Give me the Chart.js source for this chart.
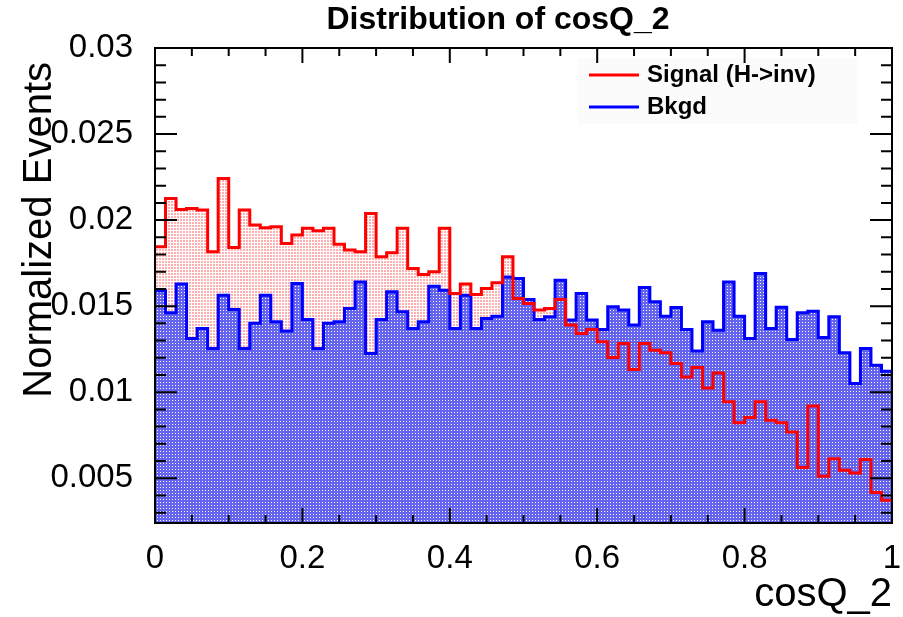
<!DOCTYPE html>
<html>
<head>
<meta charset="utf-8">
<script src="https://cdn.jsdelivr.net/npm/chart.js@4.4.1/dist/chart.umd.min.js"></script>
<style>
  body { margin: 0; background: #fff; }
  canvas { display: block; }
</style>
</head>
<body>
<canvas id="myChart" width="903" height="617"></canvas>
<script>
const chartTitle = "Distribution of cosQ_2";
const xTitle = "cosQ_2";
const yTitle = "Normalized Events";
const seriesNames = ["Signal (H->inv)", "Bkgd"];

// histogram binning
const binLow = 0;
const binHigh = 1;
const nBins = 70;

// bin contents
const signal = [
  0.01845, 0.02126, 0.02062, 0.02068, 0.02058, 0.01816, 0.02242, 0.01841, 0.02058, 0.01971,
  0.01955, 0.01961, 0.01864, 0.01913, 0.01952, 0.01938, 0.01952, 0.01860, 0.01826, 0.01816,
  0.02039, 0.01787, 0.01810, 0.01952, 0.01719, 0.01684, 0.01700, 0.01952, 0.01574, 0.01628,
  0.01568, 0.01603, 0.01636, 0.01787, 0.01545, 0.01516, 0.01477, 0.01487, 0.01539, 0.01390,
  0.01341, 0.01364, 0.01293, 0.01202, 0.01283, 0.01132, 0.01283, 0.01244, 0.01229, 0.01167,
  0.01089, 0.01144, 0.01025, 0.01112, 0.00944, 0.00822, 0.00853, 0.00944, 0.00837, 0.00822,
  0.00769, 0.00562, 0.00920, 0.00512, 0.00614, 0.00546, 0.00531, 0.00609, 0.00417, 0.00372
];
const bkgd = [
  0.01589, 0.01461, 0.01628, 0.01312, 0.01370, 0.01254, 0.01564, 0.01481, 0.01254, 0.01400,
  0.01564, 0.01409, 0.01356, 0.01632, 0.01423, 0.01254, 0.01400, 0.01409, 0.01487, 0.01641,
  0.01225, 0.01423, 0.01583, 0.01467, 0.01370, 0.01409, 0.01616, 0.01593, 0.01370, 0.01564,
  0.01370, 0.01428, 0.01442, 0.01670, 0.01661, 0.01539, 0.01423, 0.01438, 0.01651, 0.01419,
  0.01574, 0.01419, 0.01364, 0.01496, 0.01477, 0.01390, 0.01609, 0.01525, 0.01442, 0.01492,
  0.01364, 0.01240, 0.01409, 0.01360, 0.01641, 0.01442, 0.01312, 0.01690, 0.01370, 0.01493,
  0.01306, 0.01461, 0.01471, 0.01318, 0.01438, 0.01229, 0.01050, 0.01254, 0.01157, 0.01122
];

const xTicks = [0, 0.2, 0.4, 0.6, 0.8, 1];
const yTicks = [0.005, 0.01, 0.015, 0.02, 0.025, 0.03];
const yMin = 0.0024;
const yMax = 0.03;

// points on the low edge of every bin + closing point, drawn with stepped lines
function toSteps(values) {
  const w = (binHigh - binLow) / nBins;
  const pts = values.map((v, i) => ({ x: binLow + i * w, y: v }));
  pts.push({ x: binHigh, y: values[values.length - 1] });
  return pts;
}

// small dotted tiles like the ROOT fill styles
function makePattern(size, bg, fg, cells) {
  const c = document.createElement("canvas");
  c.width = size;
  c.height = size;
  const g = c.getContext("2d");
  g.fillStyle = bg;
  g.fillRect(0, 0, size, size);
  g.fillStyle = fg;
  cells.forEach(([x, y, w, h]) => g.fillRect(x, y, w, h));
  return g.createPattern(c, "repeat");
}
const redFill = makePattern(3, "#ffffff", "rgb(255,175,175)", [[0, 0, 2, 2]]);
const blueFill = makePattern(3, "rgb(100,100,238)", "#ffffff", [[1, 1, 1, 1]]);

const FONT = "'Liberation Sans', Arial, Helvetica, sans-serif";

// frame, inward ticks, title, y title and legend drawn like ROOT
const rootDecor = {
  id: "rootDecor",
  afterDatasetsDraw(chart) {
    const { ctx, chartArea: a, scales: { x, y } } = chart;
    ctx.save();
    ctx.strokeStyle = "#000";
    ctx.lineWidth = 2;
    ctx.beginPath();
    for (let i = 0; i <= 20; i++) {
      const px = x.getPixelForValue(i * 0.05);
      const len = i % 4 === 0 ? 15 : 8;
      ctx.moveTo(px, a.bottom); ctx.lineTo(px, a.bottom - len);
      ctx.moveTo(px, a.top); ctx.lineTo(px, a.top + len);
    }
    for (let i = 3; i <= 30; i++) {
      const py = y.getPixelForValue(i / 1000);
      const len = i % 5 === 0 ? 22 : 11;
      ctx.moveTo(a.left, py); ctx.lineTo(a.left + len, py);
      ctx.moveTo(a.right, py); ctx.lineTo(a.right - len, py);
    }
    ctx.stroke();
    ctx.strokeRect(a.left, a.top, a.right - a.left, a.bottom - a.top);

    // title
    ctx.fillStyle = "#000";
    ctx.font = "bold 32px " + FONT;
    ctx.textAlign = "center";
    ctx.textBaseline = "middle";
    ctx.fillText(chartTitle, 498, 20);

    // y axis title, right aligned to the top
    ctx.save();
    ctx.translate(40, 62);
    ctx.rotate(-Math.PI / 2);
    ctx.font = "40px " + FONT;
    ctx.textAlign = "right";
    ctx.fillText(yTitle, 0, 0);
    ctx.restore();

    // legend
    ctx.fillStyle = "rgba(0,0,0,0.015)";
    ctx.fillRect(578, 58, 280, 66);
    const rows = [{ c: "rgb(255,0,0)", y: 75 }, { c: "rgb(0,0,255)", y: 107 }];
    ctx.font = "bold 24px " + FONT;
    ctx.textAlign = "left";
    rows.forEach((r, i) => {
      ctx.strokeStyle = r.c;
      ctx.lineWidth = 3;
      ctx.beginPath();
      ctx.moveTo(589, r.y); ctx.lineTo(639, r.y);
      ctx.stroke();
      ctx.fillStyle = "#000";
      ctx.fillText(seriesNames[i], 647, r.y);
    });
    ctx.restore();
  }
};

const ctx = document.getElementById("myChart");

new Chart(ctx, {
  type: "line",
  data: {
    datasets: [
      {
        label: seriesNames[0],
        data: toSteps(signal),
        borderColor: "rgb(255,0,0)",
        borderWidth: 3,
        fill: false,
        order: 1
      },
      {
        label: seriesNames[1],
        data: toSteps(bkgd),
        borderColor: "rgb(0,0,255)",
        backgroundColor: blueFill,
        borderWidth: 3,
        fill: "start",
        order: 2
      },
      {
        label: seriesNames[0] + " fill",
        data: toSteps(signal),
        borderColor: "rgba(0,0,0,0)",
        backgroundColor: redFill,
        borderWidth: 0,
        fill: "start",
        order: 3
      }
    ]
  },
  options: {
    responsive: false,
    animation: false,
    elements: {
      point: { radius: 0, hoverRadius: 0 },
      line: { stepped: true, tension: 0, borderCapStyle: "square", borderJoinStyle: "miter" }
    },
    layout: { padding: { top: 48, right: 11, left: 0, bottom: 0 } },
    plugins: {
      legend: { display: false },
      title: { display: false },
      tooltip: { enabled: false }
    },
    scales: {
      x: {
        type: "linear",
        min: binLow,
        max: binHigh,
        grid: { display: false },
        border: { display: false },
        afterBuildTicks: (s) => { s.ticks = xTicks.map((v) => ({ value: v })); },
        afterFit: (s) => { s.height = 94; s.paddingRight = 0; s.paddingLeft = 0; },
        ticks: {
          color: "#000",
          padding: 8,
          maxRotation: 0,
          autoSkip: false,
          font: { family: FONT, size: 33 },
          callback: (v) => String(v)
        },
        title: {
          display: true,
          text: xTitle,
          align: "end",
          color: "#000",
          padding: 0,
          font: { family: FONT, size: 40, lineHeight: 1.1 }
        }
      },
      y: {
        min: yMin,
        max: yMax,
        grid: { display: false },
        border: { display: false },
        afterBuildTicks: (s) => { s.ticks = yTicks.map((v) => ({ value: v })); },
        afterFit: (s) => { s.width = 155; s.paddingTop = 0; s.paddingBottom = 0; },
        ticks: {
          color: "#000",
          padding: 14,
          autoSkip: false,
          font: { family: FONT, size: 33 },
          callback: (v) => String(v)
        }
      }
    }
  },
  plugins: [rootDecor]
});
</script>
</body>
</html>
